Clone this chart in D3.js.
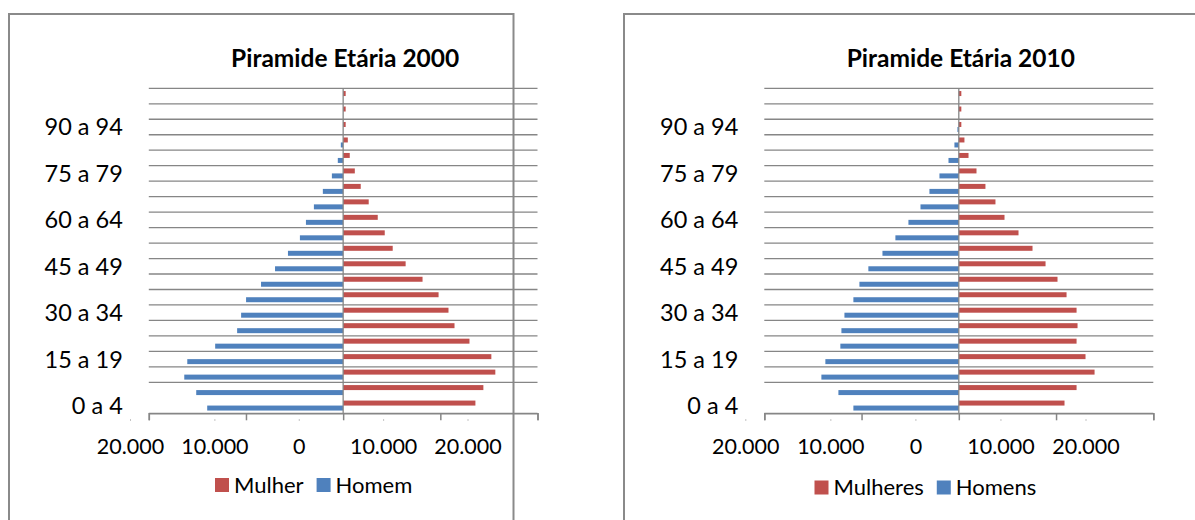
<!DOCTYPE html>
<html lang="pt">
<head>
<meta charset="utf-8">
<script src="https://cdn.jsdelivr.net/npm/d3@7"></script>
<style>
  html, body { margin: 0; padding: 0; background: #fff; }
  svg { display: block; }
  text { font-family: Lato, "Noto Sans", sans-serif; fill: #000; }
</style>
</head>
<body>
<svg id="chart" width="1195" height="520"></svg>
<script>
// Faixas etárias (de baixo para cima)
const ageGroups = [
  "0 a 4", "5 a 9", "10 a 14", "15 a 19", "20 a 24", "25 a 29", "30 a 34",
  "35 a 39", "40 a 44", "45 a 49", "50 a 54", "55 a 59", "60 a 64", "65 a 69",
  "70 a 74", "75 a 79", "80 a 84", "85 a 89", "90 a 94", "95 a 99", "100 e mais"
];

// População 2000
const mulher2000 = [13610, 14430, 15660, 15250, 13000, 11460, 10840, 9820, 8170, 6430,
                    5100, 4280, 3560, 2630, 1810, 1200, 680, 480, 260, 260, 260];
const homem2000  = [13990, 15120, 16350, 16040, 13170, 10910, 10500, 9990, 8450, 7010,
                    5680, 4450, 3830, 3010, 2090, 1160, 550, 240, 0, 0, 0];

// População 2010
const mulheres2010 = [10870, 12110, 13960, 13030, 12110, 12210, 12110, 11080, 10150, 8920,
                      7580, 6140, 4700, 3770, 2740, 1820, 1000, 580, 260, 260, 260];
const homens2010   = [10840, 12380, 14130, 13720, 12180, 12070, 11760, 10840, 10220, 9300,
                      7850, 6520, 5180, 3940, 3020, 1990, 1060, 450, 140, 0, 0];

const tickValues = [-20000, -10000, 0, 10000, 20000];
const ptBR = d3.formatLocale({ decimal: ",", thousands: ".", grouping: [3], currency: ["R$", ""] });
const fmt = ptBR.format(",");

const RED = "#C0504D", BLUE = "#4F81BD", GRID = "#868686";

const svg = d3.select("#chart");

function pyramid(cfg) {
  const g = svg.append("g");

  // moldura do gráfico
  g.append("rect")
    .attr("x", cfg.frame[0]).attr("y", cfg.frame[1])
    .attr("width", cfg.frame[2]).attr("height", cfg.frame[3])
    .attr("fill", "#fff").attr("stroke", "#8a8a8a").attr("stroke-width", 2);

  const x = d3.scaleLinear().domain([-20000, 20000]).range(cfg.xRange);
  const y = d3.scaleBand().domain(ageGroups).range([413.3, 88.3]).padding(0);
  const inner = d3.scaleBand().domain(["f", "m"]).range([0, y.bandwidth()])
    .paddingInner(0).paddingOuter(0.55);

  // título
  g.append("text")
    .attr("x", (cfg.xRange[0] + cfg.xRange[1]) / 2 + 2).attr("y", 66.5)
    .attr("text-anchor", "middle")
    .style("font-weight", "bold").style("font-size", "24.5px")
    .text(cfg.title);

  // linhas de grade horizontais
  const gridYs = ageGroups.map(d => y(d)).concat([y.range()[0]]);
  g.append("g").selectAll("line").data(gridYs.slice(1)).join("line")
    .attr("x1", cfg.xRange[0]).attr("x2", cfg.xRange[1])
    .attr("y1", d => d).attr("y2", d => d)
    .attr("stroke", GRID).attr("stroke-width", 1.3);

  // barras
  const rows = ageGroups.map((a, i) => ({ a, f: cfg.female[i], m: cfg.male[i] }));
  g.append("g").selectAll("rect").data(rows).join("rect")
    .attr("x", x(0)).attr("y", d => y(d.a) + inner("f"))
    .attr("width", d => x(d.f) - x(0)).attr("height", inner.bandwidth())
    .attr("fill", RED);
  g.append("g").selectAll("rect").data(rows).join("rect")
    .attr("x", d => x(-d.m)).attr("y", d => y(d.a) + inner("m"))
    .attr("width", d => x(0) - x(-d.m)).attr("height", inner.bandwidth())
    .attr("fill", BLUE);

  // eixo vertical em zero
  g.append("line")
    .attr("x1", x(0)).attr("x2", x(0)).attr("y1", y.range()[1]).attr("y2", y.range()[0])
    .attr("stroke", GRID).attr("stroke-width", 1.3);

  // eixo horizontal com marcas
  const ax = g.append("g").attr("transform", "translate(0,413.3)")
    .call(d3.axisBottom(x).tickValues(tickValues).tickSize(7).tickFormat(""));
  ax.select(".domain").attr("stroke", GRID).attr("stroke-width", 1.5);
  ax.selectAll(".tick line").attr("stroke", GRID).attr("stroke-width", 1.5);

  // rótulos do eixo horizontal (valores absolutos)
  const xl = d3.scaleLinear().domain([-20000, 20000]).range(cfg.labelRange);
  const al = g.append("g").attr("transform", "translate(0,419)")
    .call(d3.axisBottom(xl).tickValues(tickValues).tickSize(2).tickPadding(18)
      .tickFormat(v => fmt(Math.abs(v))));
  al.select(".domain").remove();
  al.selectAll(".tick line").attr("stroke", "#c4c4c4");
  al.selectAll(".tick text").style("font-size", "21.5px").style("font-family", "Lato, sans-serif").attr("fill", "#000");

  // rótulos das faixas etárias (a cada três)
  g.append("g").selectAll("text")
    .data(ageGroups.filter((d, i) => i % 3 === 0 && i <= 18)).join("text")
    .attr("x", cfg.xRange[0] - 26).attr("y", d => y(d) + y.bandwidth() / 2)
    .attr("dy", "0.36em").attr("text-anchor", "end")
    .style("font-size", "23.5px")
    .text(d => d);

  // legenda
  const lg = g.append("g").attr("transform", `translate(${cfg.legendX},0)`);
  let lx = 0;
  cfg.legend.forEach((item, i) => {
    lg.append("rect").attr("x", lx).attr("y", cfg.legendY - 14.5).attr("width", 14).attr("height", 14)
      .attr("fill", item.color);
    const t = lg.append("text").attr("x", lx + 19).attr("y", cfg.legendY)
      .style("font-size", "22px").text(item.name);
    lx += 19 + t.node().getComputedTextLength() + 13;
  });
}

pyramid({
  title: "Piramide Etária 2000",
  frame: [9, 14, 504.5, 530],
  xRange: [148.8, 537.5],
  labelRange: [130, 467.5],
  female: mulher2000, male: homem2000,
  legendX: 215, legendY: 492.5,
  legend: [{ name: "Mulher", color: RED }, { name: "Homem", color: BLUE }]
});

pyramid({
  title: "Piramide Etária 2010",
  frame: [624, 14, 600, 530],
  xRange: [764.3, 1153.3],
  labelRange: [745.3, 1085.5],
  female: mulheres2010, male: homens2010,
  legendX: 814.5, legendY: 495,
  legend: [{ name: "Mulheres", color: RED }, { name: "Homens", color: BLUE }]
});
</script>
</body>
</html>
